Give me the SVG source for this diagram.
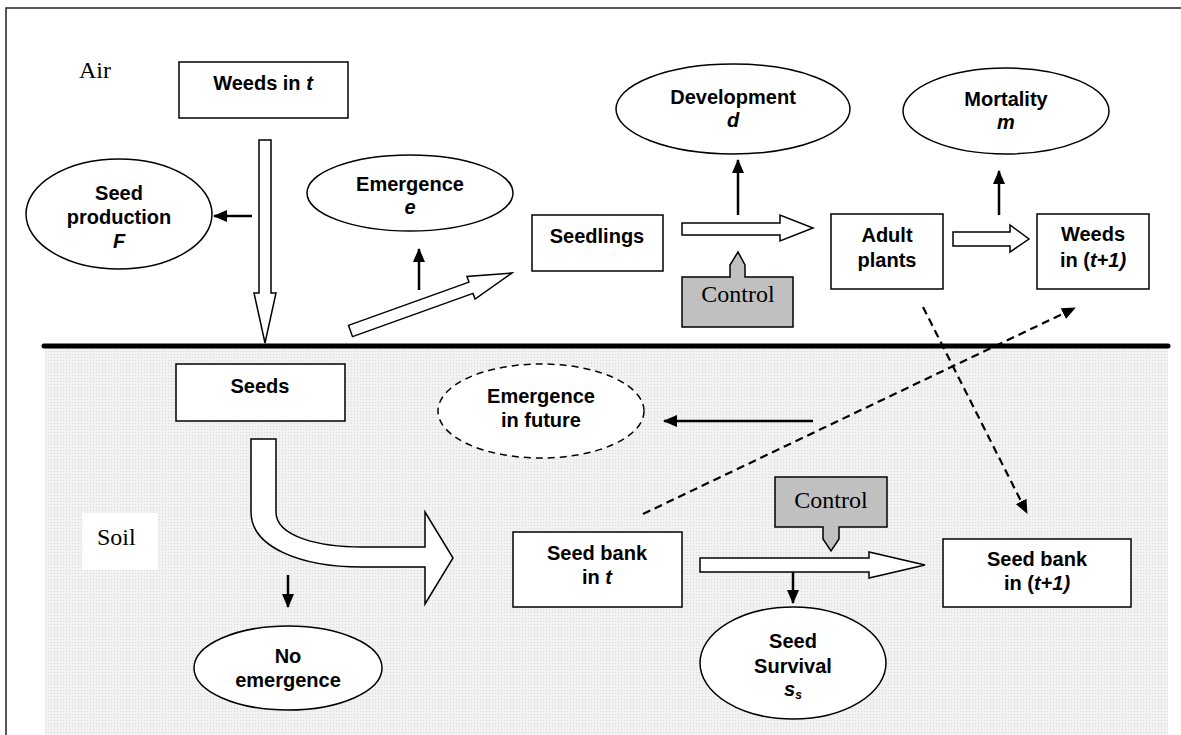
<svg xmlns="http://www.w3.org/2000/svg" width="1181" height="735" viewBox="0 0 1181 735">
<style>
.box{fill:#fff;stroke:#000;stroke-width:1.5}
.ell{fill:#fff;stroke:#000;stroke-width:1.5}
.hol{fill:#fff;stroke:#000;stroke-width:1.5;stroke-linejoin:miter}
.ctl{fill:#c0c0c0;stroke:#000;stroke-width:1.5}
.t{font-family:"Liberation Sans",Arial,sans-serif;font-weight:bold;font-size:20px;text-anchor:middle;fill:#000}
.s{font-family:"Liberation Serif","Times New Roman",serif;font-size:24px;fill:#000}
.ln{stroke:#000;stroke-width:2.5;fill:none}
.dl{stroke:#000;stroke-width:2.2;fill:none;stroke-dasharray:8,5}
</style>
<defs>
<pattern id="dots" width="3" height="3" patternUnits="userSpaceOnUse">
<rect width="3" height="3" fill="#f2f2f2"/>
<rect width="1" height="1" fill="#d8d8d8"/>
</pattern>
<marker id="ah" viewBox="0 0 14 12" refX="13" refY="6" markerWidth="14" markerHeight="12" markerUnits="userSpaceOnUse" orient="auto">
<path d="M0,0 L14,6 L0,12 z" fill="#000"/>
</marker>
</defs>
<rect width="1181" height="735" fill="#fff"/>
<path d="M6,735 L6,8 L1181,8" fill="none" stroke="#222" stroke-width="1.5"/>
<rect x="45" y="348" width="1123" height="387" fill="url(#dots)"/>
<rect x="82" y="513" width="76" height="57" fill="#fff"/>
<line x1="44" y1="346" x2="1168" y2="346" stroke="#000" stroke-width="5" stroke-linecap="round"/>
<text class="s" x="79" y="78">Air</text>
<text class="s" x="97" y="545">Soil</text>

<g id="connectors">
<path class="hol" d="M259,140 L271,140 L271,293 L276,293 L265,343 L254,293 L259,293 Z"/>
<path class="hol" transform="translate(350.5,331) rotate(-19.75)" d="M0,-6 L128,-6 L128,-12 L171.6,0 L128,12 L128,6 L0,6 Z"/>
<path class="hol" d="M682,223 L780,223 L780,215 L813,228 L780,241 L780,235 L682,235 Z"/>
<path class="hol" d="M953,232 L1010,232 L1010,225 L1029,239 L1010,252 L1010,246 L953,246 Z"/>
<path class="hol" d="M700,558 L869,558 L869,552 L925,565 L869,578 L869,572 L700,572 Z"/>
<path class="hol" d="M251,439 L276,439 L276,512 C276,537 320,547 362,547 L425,547 L425,512 L453,558 L425,604 L425,567 L362,567 C300,567 251,547 251,512 Z"/>
<line class="ln" x1="252" y1="216" x2="214" y2="216" marker-end="url(#ah)"/>
<line class="ln" x1="419" y1="290" x2="419" y2="249" marker-end="url(#ah)"/>
<line class="ln" x1="738" y1="215" x2="738" y2="160" marker-end="url(#ah)"/>
<line class="ln" x1="999" y1="215" x2="999" y2="171" marker-end="url(#ah)"/>
<line class="ln" x1="288" y1="575" x2="288" y2="607" marker-end="url(#ah)"/>
<line class="ln" x1="813" y1="421" x2="664" y2="421" marker-end="url(#ah)"/>
<line class="ln" x1="793" y1="572" x2="793" y2="603" marker-end="url(#ah)"/>
<line class="dl" x1="923" y1="307" x2="1027" y2="513" marker-end="url(#ah)"/>
<line class="dl" x1="643" y1="514" x2="1075" y2="308" marker-end="url(#ah)"/>
</g>

<g id="weeds-t">
<rect class="box" x="179" y="62" width="169" height="56"/>
<text class="t" x="263" y="90">Weeds in <tspan font-style="italic">t</tspan></text>
</g>
<g id="seed-production">
<ellipse class="ell" cx="119" cy="214" rx="93" ry="55"/>
<text class="t" x="119" y="200">Seed</text>
<text class="t" x="119" y="224">production</text>
<text class="t" x="119" y="248" font-style="italic">F</text>
</g>
<g id="emergence">
<ellipse class="ell" cx="410" cy="193" rx="103" ry="38"/>
<text class="t" x="410" y="191">Emergence</text>
<text class="t" x="410" y="214" font-style="italic">e</text>
</g>
<g id="seedlings">
<rect class="box" x="532" y="215" width="131" height="56"/>
<text class="t" x="597" y="243">Seedlings</text>
</g>
<g id="development">
<ellipse class="ell" cx="733" cy="109" rx="117" ry="45"/>
<text class="t" x="733" y="104">Development</text>
<text class="t" x="733" y="127" font-style="italic">d</text>
</g>
<g id="control-top">
<path class="ctl" d="M682,277 L730,277 L730,265 L738,252 L745,265 L745,277 L793,277 L793,327 L682,327 Z"/>
<text class="s" x="738" y="302" text-anchor="middle">Control</text>
</g>
<g id="adult-plants">
<rect class="box" x="831" y="214" width="112" height="75"/>
<text class="t" x="887" y="242">Adult</text>
<text class="t" x="887" y="267">plants</text>
</g>
<g id="mortality">
<ellipse class="ell" cx="1006" cy="111" rx="103" ry="43"/>
<text class="t" x="1006" y="106">Mortality</text>
<text class="t" x="1006" y="129" font-style="italic">m</text>
</g>
<g id="weeds-t1">
<rect class="box" x="1037" y="214" width="112" height="75"/>
<text class="t" x="1093" y="241">Weeds</text>
<text class="t" x="1093" y="267">in (<tspan font-style="italic">t+1)</tspan></text>
</g>
<g id="seeds">
<rect class="box" x="176" y="364" width="169" height="57"/>
<text class="t" x="260" y="393">Seeds</text>
</g>
<g id="emergence-future">
<ellipse class="ell" cx="541" cy="411" rx="103" ry="47" stroke-dasharray="7,5" stroke-width="2"/>
<text class="t" x="541" y="403">Emergence</text>
<text class="t" x="541" y="427">in future</text>
</g>
<g id="no-emergence">
<ellipse class="ell" cx="288" cy="668" rx="94" ry="42"/>
<text class="t" x="288" y="663">No</text>
<text class="t" x="288" y="687">emergence</text>
</g>
<g id="seed-bank-t">
<rect class="box" x="513" y="532" width="169" height="75"/>
<text class="t" x="597" y="560">Seed bank</text>
<text class="t" x="597" y="584">in <tspan font-style="italic">t</tspan></text>
</g>
<g id="control-bottom">
<path class="ctl" d="M775,477 L887,477 L887,527 L839,527 L839,539 L831,551 L823,539 L823,527 L775,527 Z"/>
<text class="s" x="831" y="508" text-anchor="middle">Control</text>
</g>
<g id="seed-survival">
<ellipse class="ell" cx="793" cy="663" rx="93" ry="56"/>
<text class="t" x="793" y="648">Seed</text>
<text class="t" x="793" y="673">Survival</text>
<text class="t" x="793" y="696" font-style="italic">s<tspan font-size="12" dy="3">s</tspan></text>
</g>
<g id="seed-bank-t1">
<rect class="box" x="943" y="539" width="188" height="68"/>
<text class="t" x="1037" y="566">Seed bank</text>
<text class="t" x="1037" y="590">in (<tspan font-style="italic">t+1)</tspan></text>
</g>
</svg>
